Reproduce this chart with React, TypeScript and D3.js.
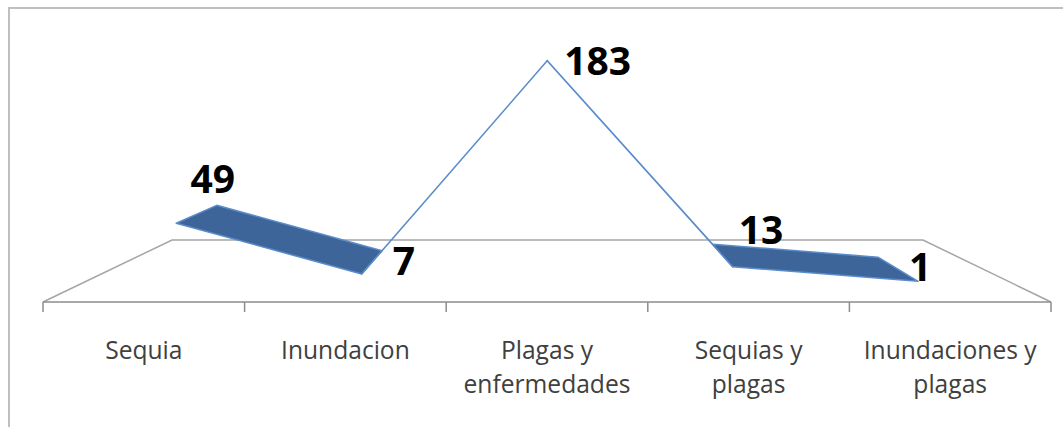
import React from 'react';
import * as d3 from 'd3';

// data
const categories = ['Sequia', 'Inundacion', 'Plagas y\nenfermedades', 'Sequias y\nplagas', 'Inundaciones y\nplagas'];
const values = [49, 7, 183, 13, 1];
// label nudges (px) relative to the projected point, as placed in the original
const labelNudge: [number, number][] = [
  [-6, -21],
  [21, 13],
  [17, 14],
  [16, -12],
  [11, 12],
];

const W = 1063;
const H = 427;

// front plane scales
const x = d3.scaleBand<string>().domain(categories).range([43, 1051]).paddingInner(0).paddingOuter(0);
const y = d3.scaleLinear().domain([0, 200]).range([302, 38.6]);

// simple perspective: shrink points towards a vanishing point by depth factor s
const vp = { x: 549, y: 59 };
const sFloorBack = 0.745;
const sRibbonFront = 0.92;
const sRibbonBack = 0.82;
const proj = (px: number, py: number, s: number): [number, number] => [vp.x + (px - vp.x) * s, vp.y + (py - vp.y) * s];

const cx = (c: string) => (x(c) ?? 0) + x.bandwidth() / 2;

const App = () => {
  const [x0, x1] = x.range();
  const y0 = y(0);
  const floor = [proj(x0, y0, 1), proj(x0, y0, sFloorBack), proj(x1, y0, sFloorBack), proj(x1, y0, 1)];
  const line = d3.line();

  const pts = categories.map((c, i) => ({ c, v: values[i], fx: cx(c), fy: y(values[i]) }));
  const segments = d3.pairs(pts).map(([a, b]) =>
    [
      proj(a.fx, a.fy, sRibbonFront),
      proj(b.fx, b.fy, sRibbonFront),
      proj(b.fx, b.fy, sRibbonBack),
      proj(a.fx, a.fy, sRibbonBack),
    ] as [number, number][]
  );
  const sMid = (sRibbonFront + sRibbonBack) / 2;
  const ticks = categories.map((c) => x(c) ?? 0).concat([x1]);

  return (
    <svg width={W} height={H} style={{ position: 'absolute', left: 0, top: 0, background: '#fff' }}>
      <rect x={9} y={8} width={W + 20} height={H + 20} fill="#fff" stroke="#BFBFBF" strokeWidth={2} />
      {/* floor */}
      <path d={line(floor) ?? ''} fill="none" stroke="#A5A5A5" strokeWidth={1.5} />
      <line x1={x0} x2={x1} y1={y0} y2={y0} stroke="#8C8C8C" strokeWidth={1.5} />
      {ticks.map((t, i) => (
        <line key={i} x1={t} x2={t} y1={y0} y2={y0 + 10} stroke="#8C8C8C" strokeWidth={1.5} />
      ))}
      {/* ribbon */}
      {segments.map((seg, i) => (
        <path key={i} d={(line(seg) ?? '') + 'Z'} fill="#3E6599" stroke="#5A8CCB" strokeWidth={1.5} strokeLinejoin="round" />
      ))}
      {/* data labels */}
      {pts.map((p, i) => {
        const [lx, ly] = proj(p.fx, p.fy, sMid);
        return (
          <text key={i} x={lx + labelNudge[i][0]} y={ly + labelNudge[i][1]} fontFamily="'Open Sans', sans-serif" fontWeight="bold" fontSize={39} fill="#000">
            {p.v}
          </text>
        );
      })}
      {/* category labels */}
      {categories.map((c, i) => (
        <text key={i} x={cx(c)} y={359} textAnchor="middle" fontFamily="'Open Sans', sans-serif" fontSize={24.6} fill="#404040">
          {c.split('\n').map((ln, j) => (
            <tspan key={j} x={cx(c)} dy={j === 0 ? 0 : 34}>
              {ln}
            </tspan>
          ))}
        </text>
      ))}
    </svg>
  );
};

export default App;
